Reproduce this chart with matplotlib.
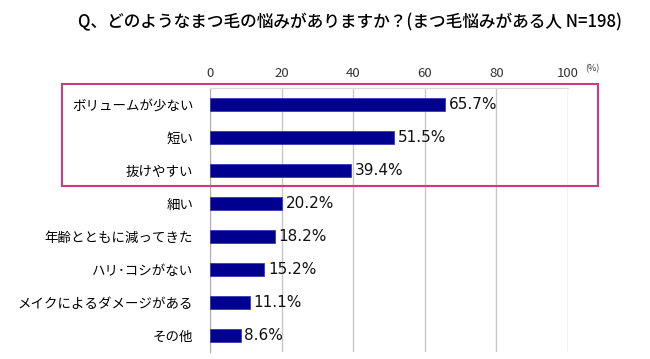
import matplotlib
matplotlib.use("Agg")
import matplotlib.pyplot as plt
from matplotlib.patches import Rectangle

plt.rcParams['font.family'] = ['Noto Sans CJK JP', 'DejaVu Sans']

categories = ["ボリュームが少ない", "短い", "抜けやすい", "細い", "年齢とともに減ってきた",
              "ハリ･コシがない", "メイクによるダメージがある", "その他"]
values = [65.7, 51.5, 39.4, 20.2, 18.2, 15.2, 11.1, 8.6]
xticks = [0, 20, 40, 60, 80, 100]
title = "Q、どのようなまつ毛の悩みがありますか？(まつ毛悩みがある人 N=198)"

W, H = 650, 359
fig = plt.figure(figsize=(W / 100, H / 100), dpi=100)
ax = fig.add_axes([210 / W, 1 - 352 / H, (568 - 210) / W, (352 - 88) / H])

y = list(range(len(categories)))
ax.barh(y, values, height=0.4, color='#000090', edgecolor='#3a3ab0', linewidth=0.6, zorder=3)
ax.set_ylim(len(categories) - 0.5, -0.5)
ax.set_xlim(0, 100)
ax.set_xticks(xticks)
ax.set_xticklabels([str(t) for t in xticks], fontsize=9.5, color='#333333')
ax.xaxis.tick_top()
ax.tick_params(axis='x', length=0, pad=6)
ax.set_yticks(y)
ax.set_yticklabels(categories, fontsize=9.7)
ax.tick_params(axis='y', length=0, pad=12)
ax.grid(axis='x', color='#c8c8c8', linewidth=1, zorder=0)
for s in ['right', 'bottom']:
    ax.spines[s].set_visible(False)
ax.spines['top'].set_color('#d8d8d8')
ax.spines['left'].set_color('#b0b0b0')
ax.spines['top'].set_bounds(0, 100)

for yi, v in zip(y, values):
    ax.text(v + 1.0, yi, f"{v:.1f}%", va='center', ha='left', fontsize=11,
            color='#111111', family=['Liberation Sans Narrow', 'DejaVu Sans'])

fig.text(592 / W, 1 - 69 / H, "(%)", fontsize=6.5, va='center', ha='center', color='#333333')
fig.text(350 / W, 1 - 22 / H, title, fontsize=12, ha='center', va='center', weight='medium')

rect = Rectangle((62 / W, 1 - 186 / H), (598 - 62) / W, (186 - 84) / H,
                 transform=fig.transFigure, fill=False, edgecolor='#c83c80', linewidth=1.5)
fig.patches.append(rect)

fig.savefig("out.png", dpi=100)
